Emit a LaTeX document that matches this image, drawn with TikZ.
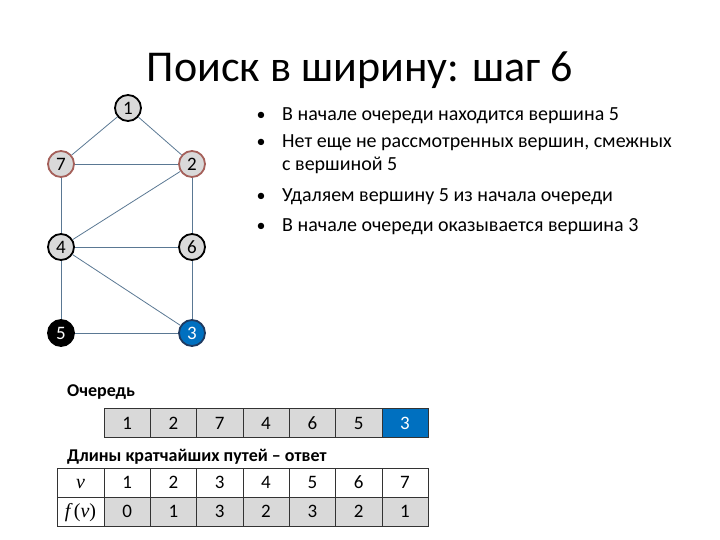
\documentclass[tikz,border=0pt]{standalone}
\usepackage{fontspec}
\setmainfont{Carlito}[Numbers=Lining]
\newfontfamily\varfont{Liberation Serif}
\usepackage{tikz}
\usetikzlibrary{positioning}

\definecolor{cellgray}{HTML}{D9D9D9}
\definecolor{headblue}{HTML}{0070C0}
\definecolor{edgeblue}{HTML}{5A7893}
\definecolor{seenred}{HTML}{A5605A}
\definecolor{navy}{HTML}{1F3A60}

\begin{document}
\begin{tikzpicture}[x=1pt, y=-1pt,
    vertex/.style={circle, draw=black, line width=1.8pt, fill=cellgray, minimum size=26pt, inner sep=0pt, font=\fontsize{19}{19}\selectfont},
    seen/.style={vertex, draw=seenred},
    done/.style={vertex, fill=black, text=white},
    front/.style={vertex, fill=headblue, draw=navy, text=white},
    edge/.style={edgeblue, line width=0.8pt},
    cell/.style={draw=black!80, line width=0.6pt, minimum width=46.3pt, minimum height=29pt, inner sep=0pt,
                 text height=12pt, text depth=0pt, font=\fontsize{19}{19}\selectfont},
    txt/.style={anchor=base west, inner sep=0pt, font=\fontsize{20}{20}\selectfont}
]
    \useasboundingbox (0,0) rectangle (720,540);

    % Title
    \node[font=\fontsize{44}{44}\selectfont] (title) at (360,70) {Поиск в ширину: шаг 6};

    % Vertices
    \foreach \n/\x/\y/\s in {1/128/108/vertex, 7/61/164/seen, 2/192/164/seen,
                             4/61/247/vertex, 6/192/247/vertex, 5/61/333/done, 3/192/333/front} {
        \node[\s] (v\n) at (\x,\y) {\n};
    }

    % Edges
    \foreach \a/\b in {1/7, 1/2, 7/2, 7/4, 2/4, 2/6, 4/6, 4/5, 4/3, 6/3, 5/3} {
        \draw[edge] (v\a) -- (v\b);
    }

    % Comments on the step
    \foreach \y/\k in {121/1, 148/2, 202/3, 231/4} {
        \node[anchor=base, inner sep=0pt, font=\fontsize{18}{18}\selectfont] (dot\k) at (261,\y) {•};
    }
    \node[txt] (b1) at (282,121) {В начале очереди находится вершина 5};
    \node[txt] (b2) at (282,148) {Нет еще не рассмотренных вершин, смежных};
    \node[txt] (b2b) at (282,171) {с вершиной 5};
    \node[txt] (b3) at (282,202) {Удаляем вершину 5 из начала очереди};
    \node[txt] (b4) at (282,231) {В начале очереди оказывается вершина 3};

    % Queue
    \node[txt, font=\fontsize{18}{18}\selectfont\bfseries] (qlabel) at (67,396) {Очередь};
    \foreach \i/\v in {1/1, 2/2, 3/7, 4/4, 5/6, 6/5} {
        \node[cell, fill=cellgray] (q\i) at ({104+46.3*(\i-0.5)},423) {\v};
    }
    \node[cell, fill=headblue, text=white] (q7) at ({104+46.3*6.5},423) {3};

    % Answer table
    \node[txt, font=\fontsize{18}{18}\selectfont\bfseries] (tlabel) at (67,461) {Длины кратчайших путей – ответ};
    \node[cell, minimum width=47pt, font=\fontsize{20}{20}\varfont] (vhead) at (80.5,482.5) {\itshape v};
    \node[cell, minimum width=47pt, font=\fontsize{20}{20}\varfont] (fhead) at (80.5,511.5) {\textit{f\,}(\textit{v})};
    \foreach \i/\v/\d in {1/1/0, 2/2/1, 3/3/3, 4/4/2, 5/5/3, 6/6/2, 7/7/1} {
        \node[cell] (t\i) at ({104+46.3*(\i-0.5)},482.5) {\v};
        \node[cell, fill=cellgray] (d\i) at ({104+46.3*(\i-0.5)},511.5) {\d};
    }
\end{tikzpicture}
\end{document}
